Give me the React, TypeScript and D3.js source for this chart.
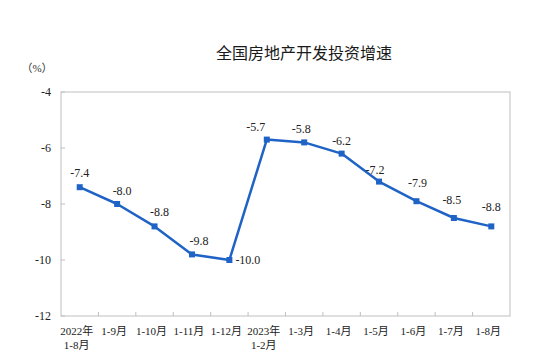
import React from 'react';
import { scaleBand, scaleLinear, line } from 'd3';

const categories = ['2022年\n1-8月', '1-9月', '1-10月', '1-11月', '1-12月', '2023年\n1-2月', '1-3月', '1-4月', '1-5月', '1-6月', '1-7月', '1-8月'];
const growth = [-7.4, -8.0, -8.8, -9.8, -10.0, -5.7, -5.8, -6.2, -7.2, -7.9, -8.5, -8.8];
const yTicks = [-4, -6, -8, -10, -12];
// label offsets relative to each point (dx, dy)
const labelOffsets: [number, number, string][] = [
  [0, -10, 'middle'], [5, -9, 'middle'], [5, -10, 'middle'], [7, -9, 'middle'], [6, 4, 'start'],
  [-11, -9, 'middle'], [-3, -9, 'middle'], [0, -9, 'middle'], [-4, -8, 'middle'], [1, -14, 'middle'],
  [-2, -14, 'middle'], [0, -15, 'middle'],
];

const serif = '"Liberation Serif", "DejaVu Serif", "Noto Sans CJK SC", serif';

const App: React.FC = () => {
  const dims = { width: 550, height: 363, left: 61, right: 510, top: 92, bottom: 316 };

  const x = scaleBand<string>().domain(categories).range([dims.left, dims.right]);
  const y = scaleLinear().domain([-12, -4]).range([dims.bottom, dims.top]);
  const cx = (i: number) => (x(categories[i]) as number) + x.bandwidth() / 2;

  const path = line<number>()
    .x((_, i) => cx(i))
    .y(d => y(d))(growth);

  const frame = '#bfbfbf';

  return (
    <svg width={dims.width} height={dims.height} style={{ position: 'absolute', left: 0, top: 0 }}>
      <rect width={dims.width} height={dims.height} fill="#fff" />
      <text x={304} y={59} textAnchor="middle" fontSize={16} fill="#1a1a1a"
        fontFamily='"Noto Sans CJK SC", sans-serif'>全国房地产开发投资增速</text>
      <text x={37} y={72} textAnchor="middle" fontSize={11} fill="#333" fontFamily={serif}>（%）</text>

      <rect x={dims.left} y={dims.top} width={dims.right - dims.left} height={dims.bottom - dims.top}
        fill="none" stroke={frame} strokeWidth={1} />

      {yTicks.map(t => (
        <g key={t}>
          <line x1={dims.left} x2={dims.left + 4} y1={y(t)} y2={y(t)} stroke={frame} />
          <text x={51} y={y(t) + 4} textAnchor="end" fontSize={12} fill="#222" fontFamily={serif}>{t}</text>
        </g>
      ))}

      {categories.map((c, i) => (
        <g key={c}>
          {i > 0 && <line x1={x(c)} x2={x(c)} y1={dims.bottom} y2={dims.bottom - 4} stroke={frame} />}
          {c.split('\n').map((s, j) => (
            <text key={j} x={cx(i) - 3} y={335 + j * 14} textAnchor="middle" fontSize={11}
              fill="#222" fontFamily={serif}>{s}</text>
          ))}
        </g>
      ))}

      <path d={path ?? ''} fill="none" stroke="#1f63c6" strokeWidth={2.5} strokeLinejoin="round" />
      {growth.map((v, i) => (
        <rect key={i} x={cx(i) - 3} y={y(v) - 3} width={6} height={6} fill="#1f63c6" />
      ))}
      {growth.map((v, i) => (
        <text key={i} x={cx(i) + labelOffsets[i][0]} y={y(v) + labelOffsets[i][1]}
          textAnchor={labelOffsets[i][2] as any} fontSize={12} fill="#222" fontFamily={serif}>
          {v.toFixed(1)}
        </text>
      ))}
    </svg>
  );
};

export default App;
